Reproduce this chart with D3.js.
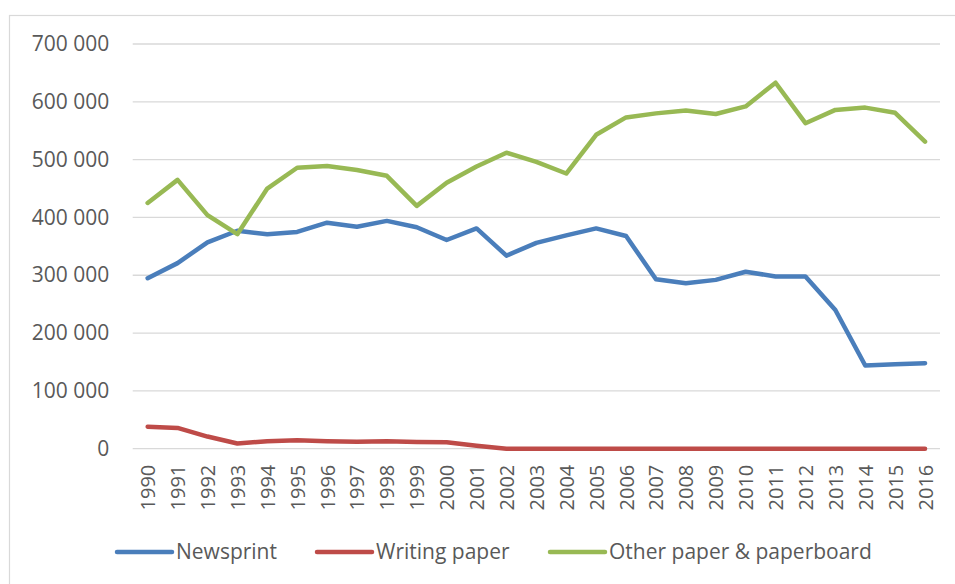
<!DOCTYPE html>
<html><head><meta charset="utf-8">
<script src="https://cdn.jsdelivr.net/npm/d3@7"></script>
<style>body{margin:0;background:#fff}svg{display:block}</style>
</head><body>
<svg id="chart" width="955" height="584"></svg>
<script>
const years = d3.range(1990, 2017).map(String);
const seriesNames = ["Newsprint", "Writing paper", "Other paper & paperboard"];
const newsprint = [295000,321000,357000,377000,371000,375000,391000,384000,394000,383000,361000,381000,334000,356000,369000,381000,368000,293000,286000,292000,306000,298000,298000,240000,144000,146000,148000];
const writingPaper = [38000,36000,21000,9000,13000,14500,13000,12000,13000,11500,11000,5000,0,0,0,0,0,0,0,0,0,0,0,0,0,0,0];
const otherPaper = [425000,465000,404000,371000,450000,486000,489000,482000,472000,420000,460000,488000,512000,496000,476000,543000,573000,580000,585000,579000,592000,633000,563000,586000,590000,581000,531000];
const yTicks = [0,100000,200000,300000,400000,500000,600000,700000];
const colors = ["#4a7ebb", "#be4b48", "#98b954"];

const svg = d3.select("#chart");
const font = "'Open Sans', sans-serif";
const textColor = "#595959";

// outer frame
svg.append("rect").attr("x", 9.5).attr("y", 15.5).attr("width", 980).attr("height", 620)
  .attr("fill", "none").attr("stroke", "#d9d9d9").attr("stroke-width", 1.2);

const x = d3.scalePoint().domain(years).range([132.7, 940]).padding(0.5);
const y = d3.scaleLinear().domain([0, 700000]).range([448.7, 44]);

const fmt = v => d3.format(",")(v).replace(/,/g, " ");

// gridlines
svg.append("g").selectAll("line").data(yTicks).join("line")
  .attr("x1", 132.7).attr("x2", 940)
  .attr("y1", d => y(d)).attr("y2", d => y(d))
  .attr("stroke", "#d9d9d9").attr("stroke-width", 1.3);

// y axis labels
const yAxis = svg.append("g").attr("transform", "translate(132.7,0)")
  .call(d3.axisLeft(y).tickValues(yTicks).tickSize(0).tickPadding(23.5).tickFormat(fmt));
yAxis.select(".domain").remove();
yAxis.selectAll("text").attr("font-family", font).attr("font-size", 21).attr("fill", textColor);

// x axis labels
const xAxis = svg.append("g").attr("transform", "translate(0,448.7)")
  .call(d3.axisBottom(x).tickSize(0).tickPadding(0));
xAxis.select(".domain").remove();
xAxis.selectAll("text")
  .attr("font-family", font).attr("font-size", 20).attr("fill", textColor)
  .attr("text-anchor", "end")
  .attr("transform", "translate(0,16) rotate(-90)")
  .attr("x", 0).attr("y", 0).attr("dy", "0.35em");

// lines
const data = [newsprint, writingPaper, otherPaper];
const line = d3.line().x((d, i) => x(years[i])).y(d => y(d));
svg.append("g").selectAll("path").data(data).join("path")
  .attr("d", line).attr("fill", "none")
  .attr("stroke", (d, i) => colors[i]).attr("stroke-width", 4.5)
  .attr("stroke-linejoin", "round").attr("stroke-linecap", "round");

// legend
const legendX = [117, 317, 550];
const lg = svg.append("g").selectAll("g").data(seriesNames).join("g")
  .attr("transform", (d, i) => `translate(${legendX[i]},552)`);
lg.append("line").attr("x1", 0).attr("x2", 55).attr("y1", 0).attr("y2", 0)
  .attr("stroke", (d, i) => colors[i]).attr("stroke-width", 4.5).attr("stroke-linecap", "round");
lg.append("text").attr("x", 59).attr("y", 0).attr("dy", "0.35em")
  .attr("font-family", font).attr("font-size", 21).attr("fill", textColor)
  .text(d => d);
</script>
</body></html>
